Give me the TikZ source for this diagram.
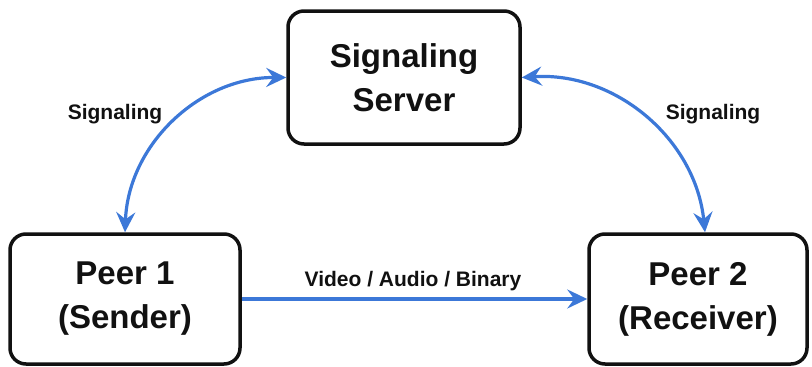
\documentclass[tikz,border=0pt]{standalone}
\usepackage{fontspec}
\setmainfont{Liberation Sans}
\usetikzlibrary{arrows.meta}
\definecolor{arrowblue}{RGB}{60,120,216}
\definecolor{inkblack}{RGB}{17,17,17}
\tikzset{
  box/.style={draw=inkblack, line width=3.5pt, rounded corners=16pt, fill=white,
    align=center, inner sep=0pt, text=inkblack,
    font=\fontsize{33}{44}\selectfont\bfseries},
  link/.style={draw=arrowblue, line width=3.2pt,
    {Stealth[length=20pt,width=19pt,inset=7pt]}-{Stealth[length=20pt,width=19pt,inset=7pt]}},
  flow/.style={draw=arrowblue, line width=3.2pt,
    -{Stealth[length=20pt,width=19pt,inset=7pt]}},
  lbl/.style={text=inkblack, font=\fontsize{21}{25}\selectfont\bfseries, inner sep=0pt}
}
\begin{document}
\begin{tikzpicture}[x=1pt,y=-1pt]
\useasboundingbox (0,0) rectangle (812,367);
\node[box, minimum width=232pt, minimum height=133pt] (srv) at (404,77.5) {Signaling\\Server};
\node[box, minimum width=230pt, minimum height=130pt] (p1) at (125,299) {Peer 1\\(Sender)};
\node[box, minimum width=218pt, minimum height=130pt] (p2) at (698,299) {Peer 2\\(Receiver)};
\draw[link] (p1.north) to[bend left=44] (srv.west);
\draw[link] (srv.east) to[bend left=44] ([xshift=7pt]p2.north);
\draw[flow] (p1.east) -- (p2.west);
\node[lbl, anchor=base] (vl) at (413,286) {Video / Audio / Binary};
\node[lbl, anchor=base] (sl) at (115,119) {Signaling};
\node[lbl, anchor=base] (sr) at (713,119) {Signaling};
\end{tikzpicture}
\end{document}
